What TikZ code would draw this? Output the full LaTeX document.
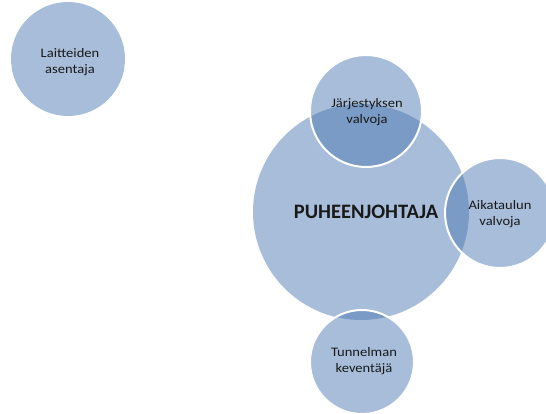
\documentclass[tikz,border=0pt]{standalone}
\usepackage{fontspec}
\setmainfont{Carlito}
\newfontfamily\widefont[FakeStretch=1.12]{Carlito}
\definecolor{role}{RGB}{167,189,218}
\definecolor{overlap}{RGB}{121,155,198}
\tikzset{
  rolecircle/.style={circle, fill=role, inner sep=0pt},
  rolelabel/.style={align=center, font=\widefont\fontsize{13}{16.5}\selectfont, text=black!90},
}
\begin{document}
\begin{tikzpicture}[x=1pt,y=-1pt]
\useasboundingbox (0,0) rectangle (546,414);
% coordinates of the circle centres
\coordinate (cA) at (68,59);
\coordinate (cP) at (361,212);
\coordinate (cJ) at (366,111);
\coordinate (cK) at (500,213);
\coordinate (cT) at (362,362);
% discs
\node[rolecircle, minimum size=114pt] (asentaja) at (cA) {};
\node[rolecircle, minimum size=216pt] (puheenjohtaja) at (cP) {};
\foreach \c/\r in {cJ/56,cK/55,cT/52}{
  \fill[role] (\c) circle (\r);
  % darker lens where a role disc lies on the chair disc
  \begin{scope}
    \clip (cP) circle (108);
    \fill[overlap] (\c) circle (\r);
  \end{scope}
  \draw[white, line width=2pt] (\c) circle (\r);
}
% labels
\node[rolelabel] (tA) at (70,62) {Laitteiden\\asentaja};
\node[font=\bfseries\fontsize{20.5}{24}\selectfont, text=black!90] (tP) at (366,212) {PUHEENJOHTAJA};
\node[rolelabel] (tJ) at (367,112) {Järjestyksen\\valvoja};
\node[rolelabel] (tK) at (500,214) {Aikataulun\\valvoja};
\node[rolelabel] (tT) at (364,361) {Tunnelman\\keventäjä};
\end{tikzpicture}
\end{document}
